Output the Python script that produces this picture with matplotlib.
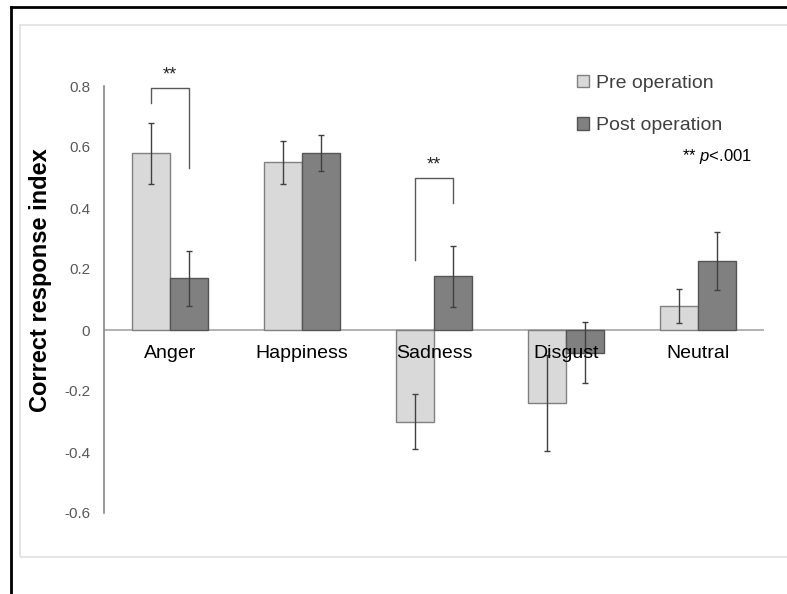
import matplotlib
matplotlib.use("Agg")
import matplotlib.pyplot as plt
import numpy as np
from matplotlib.patches import Patch
from matplotlib.lines import Line2D

plt.rcParams['font.family'] = ['Liberation Sans', 'DejaVu Sans']
plt.rcParams['mathtext.fontset'] = 'custom'
plt.rcParams['mathtext.rm'] = 'Liberation Sans'
plt.rcParams['mathtext.it'] = 'Liberation Sans:italic'

categories = ["Anger", "Happiness", "Sadness", "Disgust", "Neutral"]
pre_values = [0.58, 0.55, -0.30, -0.24, 0.078]
pre_errors = [0.10, 0.07, 0.09, 0.157, 0.056]
post_values = [0.17, 0.58, 0.177, -0.075, 0.226]
post_errors = [0.09, 0.06, 0.10, 0.10, 0.095]
series_labels = ["Pre operation", "Post operation"]
yticks = [-0.6, -0.4, -0.2, 0, 0.2, 0.4, 0.6, 0.8]
ytick_labels = ["-0.6", "-0.4", "-0.2", "0", "0.2", "0.4", "0.6", "0.8"]
# significance brackets: (category index, bracket top y, left leg bottom y, right leg bottom y)
sig_brackets = [(0, 0.795, 0.745, 0.53), (2, 0.50, 0.23, 0.415)]

W, H = 787, 594
fig = plt.figure(figsize=(W / 100, H / 100), dpi=100)

# outer frames
fig.add_artist(Line2D([11 / W, 11 / W], [0, 1 - 7 / H], color='black', lw=2, transform=fig.transFigure))
fig.add_artist(Line2D([11 / W, 1], [1 - 7 / H, 1 - 7 / H], color='black', lw=2, transform=fig.transFigure))
fig.add_artist(plt.Rectangle((20 / W, 1 - 557 / H), 1.0, (557 - 25) / H, fill=False,
                             edgecolor='#e0e0e0', lw=1.2, transform=fig.transFigure))

ax = fig.add_axes([104 / W, (H - 513) / H, 660 / W, 427 / H])
x = np.arange(len(categories))
bw = 0.285
pre_col, pre_edge = '#d9d9d9', '#808080'
post_col, post_edge = '#808080', '#555555'
ecol = '#404040'

ax.axhline(0, color='#a6a6a6', lw=1.2, zorder=1)
ax.bar(x - bw / 2, pre_values, bw, color=pre_col, edgecolor=pre_edge, lw=1, zorder=2,
       label=series_labels[0])
ax.bar(x + bw / 2, post_values, bw, color=post_col, edgecolor=post_edge, lw=1, zorder=2,
       label=series_labels[1])
ax.errorbar(x - bw / 2, pre_values, yerr=pre_errors, fmt='none', ecolor=ecol, elinewidth=1,
            capsize=2.5, capthick=1, zorder=3)
ax.errorbar(x + bw / 2, post_values, yerr=post_errors, fmt='none', ecolor=ecol, elinewidth=1,
            capsize=2.5, capthick=1, zorder=3)

ax.set_xlim(-0.5, len(categories) - 0.5)
ax.set_ylim(-0.6, 0.8)
ax.set_yticks(yticks)
ax.set_yticklabels(ytick_labels)
ax.tick_params(axis='y', length=0, pad=10, labelsize=11, labelcolor='#595959')
ax.set_xticks([])
for s in ['top', 'right', 'bottom']:
    ax.spines[s].set_visible(False)
ax.spines['left'].set_color('#868686')
ax.spines['left'].set_linewidth(1.2)
ax.set_facecolor('none')

for i, c in enumerate(categories):
    ax.annotate(c, (i, 0), xytext=(0, -23), textcoords='offset pixels', ha='center',
                va='center', fontsize=14, color='black', zorder=5)

for (ci, ytop, yl, yr) in sig_brackets:
    xl, xr = ci - bw / 2, ci + bw / 2
    ax.plot([xl, xl, xr, xr], [yl, ytop, ytop, yr], color='#595959', lw=1, clip_on=False, zorder=4)
    ax.annotate("**", ((xl + xr) / 2, ytop), xytext=(0, 13), textcoords='offset pixels',
                ha='center', va='center', fontsize=13, color='#262626', annotation_clip=False)

ax.set_ylabel("Correct response index", fontsize=17, fontweight='bold')
ax.yaxis.set_label_coords(-(104 - 52) / 660, (513 - 280) / 427)

handles = [Patch(facecolor=pre_col, edgecolor=pre_edge, lw=1),
           Patch(facecolor=post_col, edgecolor=post_edge, lw=1)]
leg = ax.legend(handles, series_labels, loc='upper left',
                bbox_to_anchor=((577 - 104) / 660, (513 - 75) / 427), frameon=False,
                fontsize=14, handlelength=0.6, handleheight=0.6, handletextpad=0.4,
                labelspacing=1.3, borderaxespad=0, borderpad=0)
for t in leg.get_texts():
    t.set_color('#404040')

ax.text((752 - 104) / 660, (513 - 157) / 427, r"** $\it{p}$<.001", transform=ax.transAxes,
        ha='right', va='center', fontsize=12, color='black')

fig.savefig("out.png", dpi=100)
